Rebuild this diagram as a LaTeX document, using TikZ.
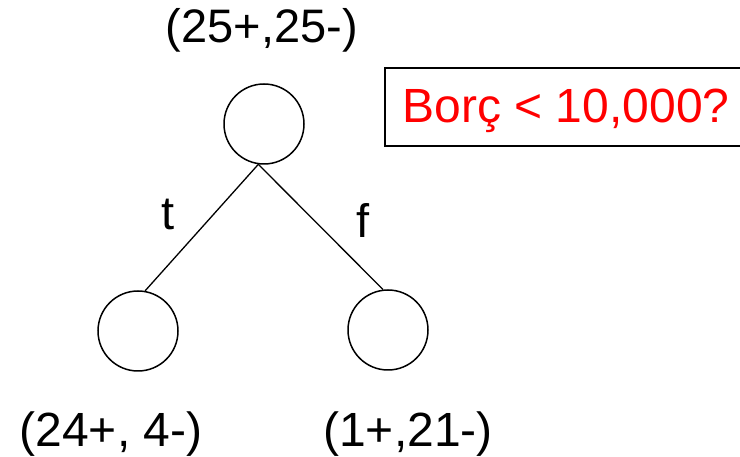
\documentclass[tikz,border=0pt]{standalone}
\usepackage{fontspec}
\setmainfont{Liberation Sans}
\usepackage{xcolor}
\usetikzlibrary{positioning}
\newcommand{\bigtxt}{\fontsize{47}{56}\selectfont}
\newcommand{\bigtxtb}{\fontsize{48}{56}\selectfont}
\tikzset{
  tree node/.style={
    draw, circle, line width=1.5pt,
    minimum size=80pt, inner sep=0pt
  },
  count label/.style={
    anchor=base, inner sep=0pt, font=\bigtxt
  },
  edge label/.style={
    anchor=base, inner sep=0pt, font=\bigtxt
  },
  tree edge/.style={
    line width=1.3pt, draw=black
  },
  test box/.style={
    draw, line width=1.2pt
  },
}
\begin{document}
\begin{tikzpicture}[x=1pt, y=1pt]
  \useasboundingbox (0,0) rectangle (740,457);
  \clip (0,0) rectangle (740,457);

  % Nodes of the tree
  \node[tree node] (root) at (264, 333) {};
  \node[tree node] (lc) at (138, 126) {};
  \node[tree node] (rc) at (388, 127) {};

  % Class counts
  \node[count label] (rootcnt) at (262, 414) {(25+,25-)};
  \node[count label, font=\bigtxtb] (lccnt) at (111, 10) {(24+, 4-)};
  \node[count label, font=\bigtxtb] (rccnt) at (408, 10) {(1+,21-)};

  % Branches
  \coordinate (split) at (root.-98);
  \draw[tree edge] (split) -- (lc.80);
  \draw[tree edge] (split) -- (rc.97);
  \node[edge label] (tlab) at (168, 227) {t};
  \node[edge label] (flab) at (363, 219) {f};

  % Test on the root
  \draw[test box] (385, 311) rectangle (760, 389);
  \node[count label, font=\bigtxtb, text=red] (test) at (566, 334) {Bor\c{c} < 10,000?};

\end{tikzpicture}
\end{document}
